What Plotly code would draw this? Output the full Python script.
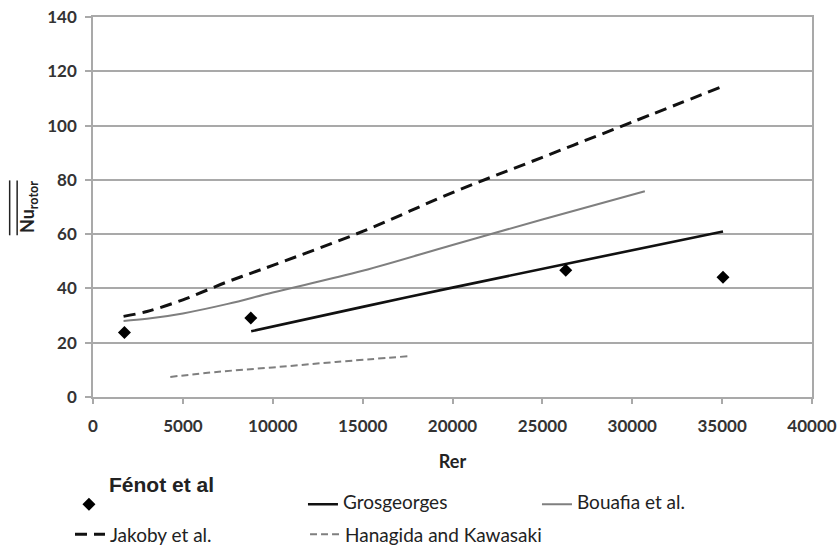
import plotly.graph_objects as go

# ---- data ----
fenot_re = [1750, 8780, 26300, 35050]
fenot_nu = [23.8, 29.1, 46.7, 44.1]

gros_re = [8800, 15000, 20000, 26300, 35050]
gros_nu = [24.2, 33.2, 40.3, 49.0, 61.0]

bouafia_re = [1700, 3000, 5000, 7500, 10000, 15000, 20000, 25000, 30700]
bouafia_nu = [28.0, 28.8, 30.8, 34.3, 38.5, 46.5, 56.0, 65.4, 75.8]

jakoby_re = [1700, 3000, 5000, 7500, 10000, 15000, 20000, 25000, 30000, 35050]
jakoby_nu = [29.7, 31.5, 35.8, 42.5, 48.5, 61.0, 75.3, 88.3, 101.3, 114.5]

hana_re = [4300, 7000, 10000, 13500, 17500]
hana_nu = [7.4, 9.3, 10.9, 12.9, 15.0]

x_ticks = [0, 5000, 10000, 15000, 20000, 25000, 30000, 35000, 40000]
y_ticks = [0, 20, 40, 60, 80, 100, 120, 140]

GRID = "#a9a9a9"
BIG = "<span style='font-size:19px'>{}</span>"

fig = go.Figure()

fig.add_trace(go.Scatter(
    x=jakoby_re, y=jakoby_nu, mode="lines", name="Jakoby et al.", legend="legend2",
    line=dict(color="#111111", width=3, dash="12px,7px"), line_shape="spline"))
fig.add_trace(go.Scatter(
    x=bouafia_re, y=bouafia_nu, mode="lines", name=" <br>" + BIG.format("Bouafia et al."), legendrank=3,
    line=dict(color="#7f7f7f", width=2), line_shape="spline"))
fig.add_trace(go.Scatter(
    x=gros_re, y=gros_nu, mode="lines", name=" <br>" + BIG.format("Grosgeorges"), legendrank=2,
    line=dict(color="#111111", width=2.6), line_shape="spline"))
fig.add_trace(go.Scatter(
    x=hana_re, y=hana_nu, mode="lines", name="Hanagida and Kawasaki", legend="legend3",
    line=dict(color="#7f7f7f", width=2, dash="7px,4px"), line_shape="spline"))
fig.add_trace(go.Scatter(
    x=fenot_re, y=fenot_nu, mode="markers", legendrank=1,
    name="<span style='font-family:Liberation Sans, Arial;font-size:21px'><b>Fénot et al</b></span><br> ",
    marker=dict(symbol="diamond", size=10, color="#000000")))

row2 = dict(orientation="h", xref="container", yref="container", xanchor="left",
            y=0.0577, yanchor="top", itemwidth=30, tracegroupgap=0,
            font=dict(family="Lato", size=19, color="#222222"), bgcolor="rgba(0,0,0,0)")

fig.update_layout(
    width=838, height=547,
    paper_bgcolor="white", plot_bgcolor="white",
    margin=dict(l=93, r=26, t=17, b=150, autoexpand=False),
    font=dict(family="Lato", size=16, color="#222222"),
    legend=dict(
        orientation="h", xref="container", yref="container",
        x=0.0823, xanchor="left", y=0.1363, yanchor="top",
        entrywidth=189, entrywidthmode="pixels", valign="bottom",
        font=dict(family="Lato", size=13, color="#222222"),
        itemwidth=30, tracegroupgap=0, bgcolor="rgba(0,0,0,0)"),
    legend2=dict(row2, x=0.0835),
    legend3=dict(row2, x=0.3640),
    xaxis=dict(
        automargin=False,
        range=[0, 40000], tickvals=x_ticks, ticktext=[str(v) for v in x_ticks],
        showgrid=False, zeroline=False,
        showline=True, linecolor=GRID, linewidth=1.5, mirror=True,
        ticks="outside", ticklen=5, tickcolor=GRID, tickwidth=1.5,
        tickfont=dict(family="Lato", size=17, color="#333333", weight="bold"),
        ticklabelstandoff=8,
        title=dict(text="<b>Rer</b>", font=dict(family="Lato", size=18, color="#222222"), standoff=22)),
    yaxis=dict(
        automargin=False,
        range=[0, 140], tickvals=y_ticks, ticktext=[str(v) for v in y_ticks],
        showgrid=True, gridcolor=GRID, gridwidth=1.5, zeroline=False,
        showline=True, linecolor=GRID, linewidth=1.5, mirror=True,
        ticks="outside", ticklen=6, tickcolor=GRID, tickwidth=1.5,
        tickfont=dict(family="Lato", size=17, color="#333333", weight="bold"),
        ticklabelstandoff=5,
        title=dict(text="<b>Nu<sub>rotor</sub></b>", font=dict(family="Lato", size=18, color="#222222"), standoff=8)),
)

# double overline of the y-axis symbol
for xp in (-0.1159, -0.1055):
    fig.add_shape(type="line", xref="paper", yref="paper", x0=xp, x1=xp, y0=0.4255, y1=0.570,
                  line=dict(color="#222222", width=1.5))

fig.write_html("out.html", config={"displayModeBar": False},
               post_script="document.body.style.margin='0';")
